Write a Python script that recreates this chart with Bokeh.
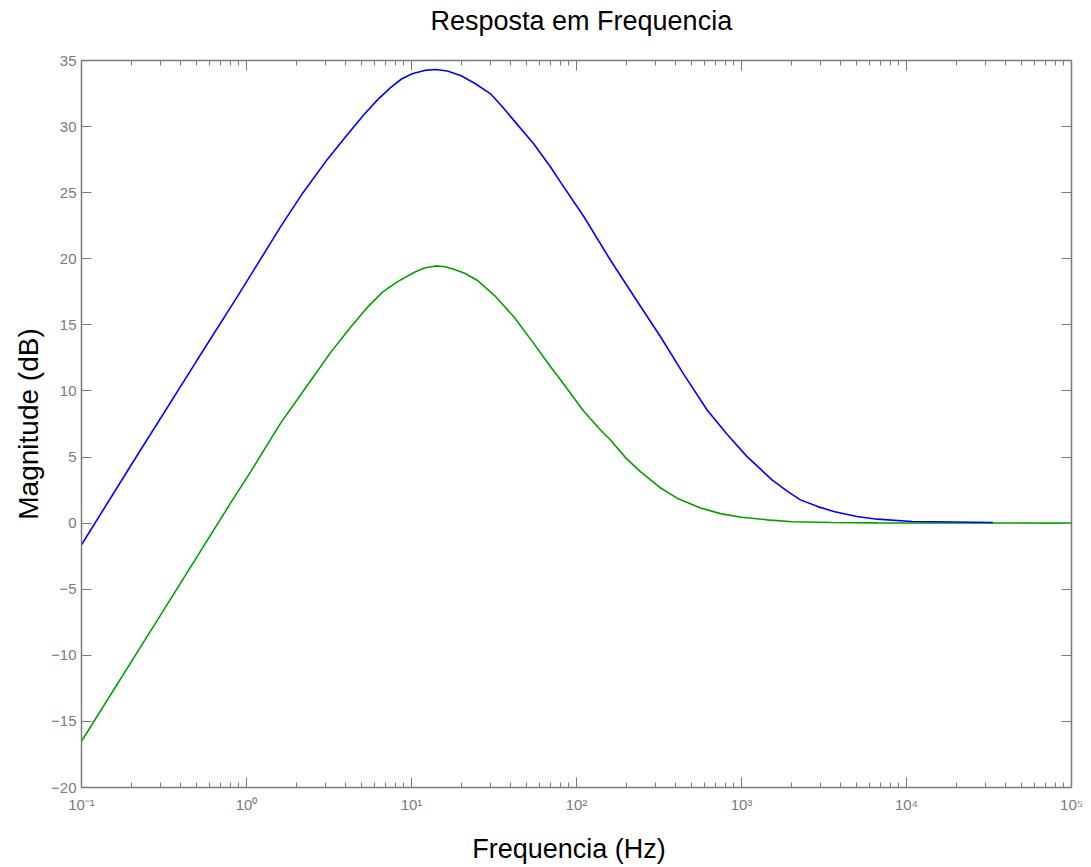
from bokeh.plotting import figure
from bokeh.models import FixedTicker, LogAxis, LinearAxis, CustomJSTickFormatter
from bokeh.embed import file_html
from bokeh.resources import INLINE

# Blue trace (frequency Hz, magnitude dB)
blue_f = [0.1, 0.2, 0.5, 0.878, 1.06, 1.607, 2.2, 3.08, 4.0, 5.14, 6.2, 7.46, 8.7,
          10.1, 12.0, 13.97, 16.5, 20.0, 24.4, 30.0, 35.0, 41.7, 55.0, 69.6, 80.0,
          110.7, 160.7, 230.0, 323.0, 450.0, 619.0, 820.0, 1081.0, 1300.0, 1531.0,
          1900.0, 2275.0, 2900.0, 3623.0, 5000.0, 6637.0, 10800.0, 33340.0]
blue_db = [-1.64, 4.4, 12.3, 17.12, 18.76, 22.41, 25.0, 27.5, 29.25, 30.9, 32.0, 32.95, 33.6,
           34.0, 34.25, 34.32, 34.2, 33.85, 33.24, 32.5, 31.6, 30.47, 28.7, 26.94, 25.8,
           23.2, 19.89, 16.9, 14.1, 11.2, 8.56, 6.7, 5.03, 4.1, 3.27,
           2.4, 1.76, 1.25, 0.88, 0.5, 0.3, 0.12, 0.05]

# Green trace
green_f = [0.1, 0.3, 0.8, 1.06, 1.607, 2.3, 3.23, 4.2, 5.38, 6.7, 8.19, 10.5, 12.0,
           13.97, 16.0, 18.0, 21.0, 25.0, 32.0, 41.7, 55.0, 69.6, 80.0, 110.0, 139.8,
           160.7, 200.0, 244.0, 320.0, 407.0, 565.0, 746.0, 1000.0, 1431.0,
           2024.0, 3500.0, 6637.0, 100000.0]
green_db = [-16.5, -7.0, 1.51, 3.9, 7.55, 10.3, 12.9, 14.7, 16.3, 17.5, 18.25, 19.0, 19.3,
            19.46, 19.4, 19.2, 18.9, 18.38, 17.2, 15.61, 13.6, 11.83, 10.85, 8.5, 7.05,
            6.29, 4.9, 3.9, 2.7, 1.89, 1.15, 0.72, 0.45, 0.25,
            0.1, 0.05, 0.02, 0.0]

x_ticks = [0.1, 1, 10, 100, 1000, 10000, 100000]
x_tick_labels = ["10\u207b\u00b9", "10\u2070", "10\u00b9", "10\u00b2", "10\u00b3", "10\u2074", "10\u2075"]
y_ticks = [-20, -15, -10, -5, 0, 5, 10, 15, 20, 25, 30, 35]

TITLE = "Resposta em Frequencia"
XLABEL = "Frequencia   (Hz)"
YLABEL = "Magnitude (dB)"

FONT = "Liberation Sans"
GRAY = "#7a7a7a"

p = figure(width=1083, height=866, x_axis_type="log",
           x_range=(0.1, 100000), y_range=(-20, 35),
           output_backend="svg", toolbar_location=None,
           min_border_left=81, min_border_right=12,
           min_border_top=60, min_border_bottom=78)

p.title.text = TITLE
p.title.align = "left"
p.title.offset = 349
p.title.standoff = 0
p.title.text_font = FONT
p.title.text_font_size = "27px"
p.title.text_font_style = "normal"
p.title.text_color = "black"

p.xgrid.visible = False
p.ygrid.visible = False
p.outline_line_color = None

minor = []
for e in range(-1, 5):
    for m in range(2, 10):
        minor.append(m * 10.0 ** e)

xt = FixedTicker(ticks=x_ticks, minor_ticks=minor)
yt = FixedTicker(ticks=y_ticks, minor_ticks=[])

def style(ax):
    ax.axis_line_color = GRAY
    ax.axis_line_width = 1.5
    ax.major_tick_line_color = GRAY
    ax.minor_tick_line_color = GRAY
    ax.major_tick_in = 10
    ax.major_tick_out = 0
    ax.minor_tick_in = 5
    ax.minor_tick_out = 0
    ax.major_label_text_color = GRAY
    ax.major_label_text_font = FONT
    ax.major_label_text_font_size = "15px"
    ax.axis_label_text_font = FONT
    ax.axis_label_text_font_style = "normal"
    ax.axis_label_text_color = "black"

xa = p.xaxis[0]
xa.ticker = xt
xa.major_label_overrides = {t: l for t, l in zip(x_ticks, x_tick_labels)}
xa.axis_label = XLABEL
style(xa)
xa.axis_label_text_font_size = "27px"
xa.major_label_standoff = 8
xa.axis_label_standoff = 18

ya = p.yaxis[0]
ya.ticker = yt
ya.axis_label = YLABEL
style(ya)
ya.axis_label_text_font_size = "28px"
ya.major_label_standoff = 5
ya.axis_label_standoff = 4

blank = CustomJSTickFormatter(code="return ''")
spacer = CustomJSTickFormatter(code="return ' '")
top = LogAxis(ticker=xt, formatter=spacer)
style(top)
right = LinearAxis(ticker=yt, formatter=blank)
style(right)
for ax in (top, right):
    ax.major_label_standoff = 0
    ax.axis_label_standoff = 0
    ax.major_label_text_font_size = "1px"
    ax.axis_label_text_font_size = "1px"
top.major_label_standoff = 1
top.major_label_text_font_size = "19px"
p.add_layout(top, "above")
p.add_layout(right, "right")

p.line(green_f, green_db, line_color="#00a000", line_width=1.6)
p.line(blue_f, blue_db, line_color="#0000ff", line_width=1.6)

open("out.html", "w").write(file_html(p, INLINE))
